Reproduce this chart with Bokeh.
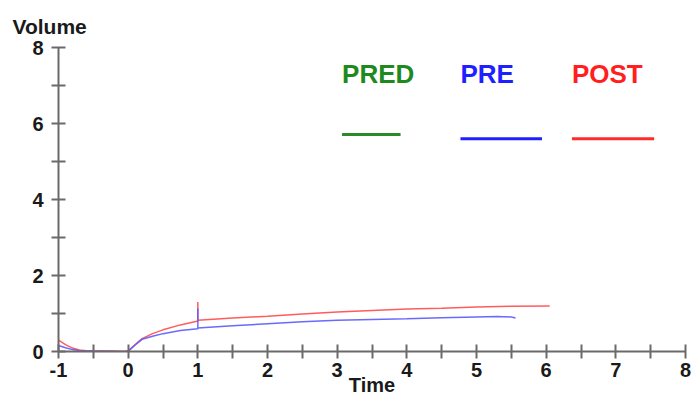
from bokeh.plotting import figure
from bokeh.models import FixedTicker, Range1d
from bokeh.core.properties import value
from bokeh.embed import file_html
from bokeh.resources import INLINE

# ---- data ----
x_ticks = [-1, 0, 1, 2, 3, 4, 5, 6, 7, 8]
x_tick_labels = ["-1", "0", "1", "2", "3", "4", "5", "6", "7", "8"]
x_minor = [-0.5, 0.5, 1.5, 2.5, 3.5, 4.5, 5.5, 6.5, 7.5]
y_ticks = [0, 2, 4, 6, 8]
y_minor = [1, 3, 5, 7]

series_names = ["PRED", "PRE", "POST"]

pre_t = [-1.0, -0.9, -0.8, -0.7, -0.5, -0.2, 0.0, 0.1, 0.2, 0.35, 0.5, 0.75, 1.0, 1.0, 1.0,
         1.5, 2.0, 2.5, 3.0, 3.5, 4.0, 4.5, 5.0, 5.3, 5.5, 5.56]
pre_v = [0.16, 0.10, 0.05, 0.02, 0.01, 0.0, 0.0, 0.17, 0.32, 0.40, 0.47, 0.55, 0.60, 1.13, 0.62,
         0.68, 0.73, 0.78, 0.82, 0.84, 0.86, 0.89, 0.91, 0.92, 0.91, 0.88]

post_t = [-1.0, -0.9, -0.8, -0.7, -0.6, -0.4, -0.2, -0.05, 0.0, 0.1, 0.2, 0.35, 0.5, 0.75, 1.0, 1.0, 1.0,
          1.5, 2.0, 2.5, 3.0, 3.5, 4.0, 4.5, 5.0, 5.5, 6.05]
post_v = [0.30, 0.18, 0.09, 0.04, 0.02, 0.01, 0.01, 0.0, 0.02, 0.18, 0.34, 0.47, 0.57, 0.70, 0.80, 1.30, 0.82,
          0.88, 0.93, 0.99, 1.04, 1.08, 1.12, 1.14, 1.17, 1.19, 1.20]

y_title = "Volume"
x_title = "Time"

# ---- layout / style ----
legend_text_colors = {"PRED": "#1e8a1e", "PRE": "#1f1fff", "POST": "#ff1f1f"}
legend_line_colors = {"PRED": "#2a8a2a", "PRE": "#1f1fff", "POST": "#ff2a2a"}
legend_layout = {  # label x, label top y, line x0, line x1, line y
    "PRED": (3.07, 7.70, 3.07, 3.91, 5.71),
    "PRE": (4.77, 7.70, 4.77, 5.94, 5.60),
    "POST": (6.37, 7.70, 6.37, 7.55, 5.60),
}

FONT = "Liberation Sans"
AXIS_COL = "#6a6a6a"
TXT_COL = "#1a1a1a"

p = figure(width=693, height=398, output_backend="svg", toolbar_location=None,
           x_range=Range1d(-1, 8), y_range=Range1d(0, 8),
           min_border_left=58, min_border_right=8, min_border_top=47, min_border_bottom=46)
p.outline_line_color = None
p.xgrid.visible = False
p.ygrid.visible = False
p.background_fill_color = "white"
p.border_fill_color = "white"

# y-axis title placed horizontally at the top-left
p.title.text = y_title
p.title.align = "left"
p.title.offset = -46
p.title.standoff = 20
p.title.text_font = FONT
p.title.text_font_style = "bold"
p.title.text_font_size = "21px"
p.title.text_color = TXT_COL

p.xaxis.ticker = FixedTicker(ticks=x_ticks, minor_ticks=x_minor)
p.xaxis.major_label_overrides = {t: s for t, s in zip(x_ticks, x_tick_labels)}
p.yaxis.ticker = FixedTicker(ticks=y_ticks, minor_ticks=y_minor)
p.xaxis.axis_label = x_title
p.xaxis.axis_label_standoff = -6
p.xaxis.axis_label_text_font = FONT
p.xaxis.axis_label_text_font_style = "bold"
p.xaxis.axis_label_text_font_size = "20px"
p.xaxis.axis_label_text_color = TXT_COL

for ax in (p.xaxis, p.yaxis):
    ax.axis_line_color = AXIS_COL
    ax.axis_line_width = 2
    ax.major_tick_line_color = AXIS_COL
    ax.minor_tick_line_color = AXIS_COL
    ax.major_tick_line_width = 2
    ax.minor_tick_line_width = 2
    ax.major_tick_in = 7
    ax.major_tick_out = 7
    ax.minor_tick_in = 7
    ax.minor_tick_out = 7
    ax.major_label_text_font = FONT
    ax.major_label_text_font_style = "bold"
    ax.major_label_text_font_size = "20px"
    ax.major_label_text_color = TXT_COL
p.xaxis.major_label_standoff = 4
p.yaxis.major_label_standoff = 8

# curves
p.line(post_t, post_v, line_color="#ff4a4a", line_width=1.5, line_alpha=0.9)
p.line(pre_t, pre_v, line_color="#5a5aff", line_width=1.5, line_alpha=0.9)

# legend (label above a line sample)
for name in series_names:
    lx, ly, x0, x1, yl = legend_layout[name]
    p.text(x=[lx], y=[ly], text=[name], text_font=value(FONT), text_font_style="bold",
           text_font_size="26px", text_color=legend_text_colors[name], text_baseline="top",
           text_align="left")
    p.segment(x0=[x0], y0=[yl], x1=[x1], y1=[yl], line_color=legend_line_colors[name], line_width=3)

open("out.html", "w").write(file_html(p, INLINE))
